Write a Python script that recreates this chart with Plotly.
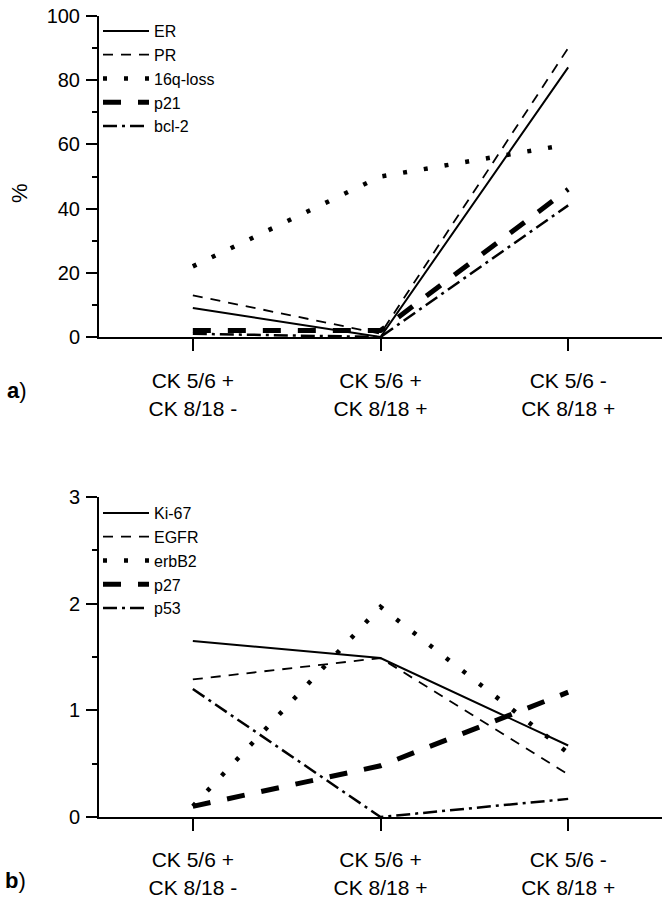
import plotly.graph_objects as go

# ---- data ----
categories = ["CK 5/6 +<br>CK 8/18 -", "CK 5/6 +<br>CK 8/18 +", "CK 5/6 -<br>CK 8/18 +"]

er = [9, 0, 84]
pr = [13, 1, 90]
loss16q = [22, 50, 60]
p21 = [2, 2, 46]
bcl2 = [1, 0, 41]

ki67 = [1.65, 1.49, 0.67]
egfr = [1.29, 1.49, 0.40]
erbb2 = [0.10, 1.97, 0.60]
p27 = [0.10, 0.48, 1.17]
p53 = [1.20, 0.00, 0.17]

top_names = ["ER", "PR", "16q-loss", "p21", "bcl-2"]
top_values = [er, pr, loss16q, p21, bcl2]
bot_names = ["Ki-67", "EGFR", "erbB2", "p27", "p53"]
bot_values = [ki67, egfr, erbb2, p27, p53]

styles = [
    dict(width=2, dash="solid"),
    dict(width=1.8, dash="10px,8px"),
    dict(width=4.5, dash="4px,17px"),
    dict(width=5, dash="18px,17px"),
    dict(width=2.5, dash="14px,5px,3px,5px"),
]

FONT = "Liberation Sans, Arial, sans-serif"
W, H = 662, 900

fig = go.Figure()

for name, vals, st in zip(top_names, top_values, styles):
    fig.add_trace(go.Scatter(x=categories, y=vals, name=name, mode="lines",
                             line=dict(color="black", **st), cliponaxis=False,
                             xaxis="x", yaxis="y", legend="legend"))
for name, vals, st in zip(bot_names, bot_values, styles):
    fig.add_trace(go.Scatter(x=categories, y=vals, name=name, mode="lines",
                             line=dict(color="black", **st), cliponaxis=False,
                             xaxis="x2", yaxis="y2", legend="legend2"))

xdom = [99 / W, 1.0]
common_x = dict(type="category", range=[-0.5, 2.5], showline=True, linewidth=2,
                linecolor="black", ticks="outside", ticklen=12, tickwidth=2,
                tickcolor="black", showgrid=False, zeroline=False, automargin=False,
                tickfont=dict(family=FONT, size=21, color="black"))
common_y = dict(showline=True, linewidth=2, linecolor="black", ticks="outside",
                ticklen=11, tickwidth=2, tickcolor="black", showgrid=False,
                zeroline=False, ticklabelstandoff=2, automargin=False,
                tickfont=dict(family=FONT, size=20, color="black"))

legend_common = dict(xanchor="left", yanchor="top", bgcolor="rgba(0,0,0,0)",
                     borderwidth=0, itemwidth=46, tracegroupgap=0,
                     font=dict(family=FONT, size=16, color="black"))

fig.update_layout(
    template="none",
    width=W, height=H,
    margin=dict(l=0, r=0, t=0, b=0, pad=0),
    paper_bgcolor="white", plot_bgcolor="white",
    font=dict(family=FONT, color="black"),
    xaxis=dict(domain=xdom, anchor="y", ticklabelstandoff=12, **common_x),
    yaxis=dict(domain=[1 - 337 / H, 1 - 16 / H], anchor="x", range=[0, 100],
               tickvals=[0, 20, 40, 60, 80, 100],
               minor=dict(dtick=10, ticks="outside", ticklen=5, tickwidth=2, tickcolor="black"),
               **common_y),
    xaxis2=dict(domain=xdom, anchor="y2", ticklabelstandoff=11, **common_x),
    yaxis2=dict(domain=[1 - 817 / H, 1 - 497 / H], anchor="x2", range=[0, 3],
                tickvals=[0, 1, 2, 3],
                minor=dict(dtick=0.5, ticks="outside", ticklen=5, tickwidth=2, tickcolor="black"),
                **common_y),
    legend=dict(x=98 / W, y=1 - 14 / H, **legend_common),
    legend2=dict(x=98 / W, y=1 - 496 / H, **legend_common),
    annotations=[
        dict(text="%", x=19 / W, y=1 - 193 / H, xref="paper", yref="paper",
             xanchor="center", yanchor="middle",
             showarrow=False, textangle=-90, font=dict(family=FONT, size=22, color="black")),
        dict(text="<b>a</b>)", x=17 / W, y=1 - 391 / H, xref="paper", yref="paper",
             xanchor="center", yanchor="middle",
             showarrow=False, font=dict(family=FONT, size=22, color="black")),
        dict(text="<b>b</b>)", x=15 / W, y=1 - 880 / H, xref="paper", yref="paper",
             xanchor="center", yanchor="middle",
             showarrow=False, font=dict(family=FONT, size=22, color="black")),
    ],
    showlegend=True,
)

fig.write_html("out.html", config={"displayModeBar": False},
               post_script="document.body.style.margin='0';")
